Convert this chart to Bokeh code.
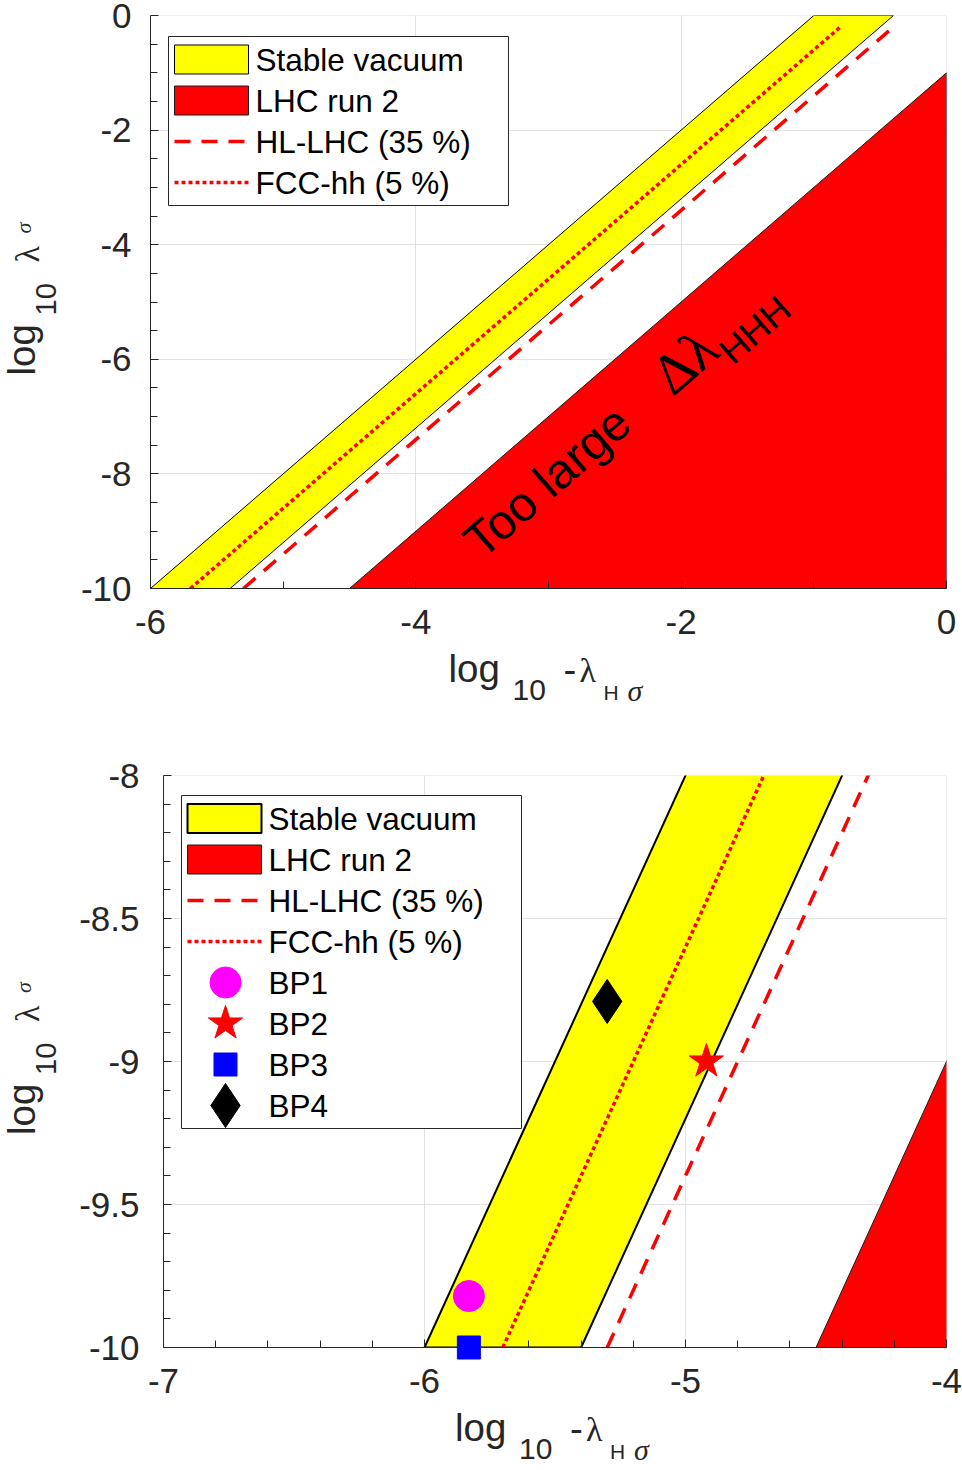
from bokeh.plotting import figure
from bokeh.models import FixedTicker, Label, Title
from bokeh.embed import file_html
from bokeh.resources import INLINE

# ---------------- data ----------------
vacuum_x = [-6.0, -1.0, -0.4, -5.4]          # stable vacuum band (polygon)
vacuum_y = [-10.0, 0.0, 0.0, -10.0]
lhc_run2_x = [-4.5, 0.0, 0.0]                # LHC run 2 excluded region
lhc_run2_y = [-10.0, -1.0, -10.0]
hl_lhc_x = [-5.3, -0.4]                      # HL-LHC (35 %) line
hl_lhc_y = [-10.0, -0.2]
fcc_hh_x = [-5.7, -0.8]                      # FCC-hh (5 %) line
fcc_hh_y = [-10.0, -0.2]

bp_names = ["BP1", "BP2", "BP3", "BP4"]
bp_x = [-5.83, -4.92, -5.83, -5.30]
bp_y = [-9.82, -9.00, -10.00, -8.79]

legend_labels = ["Stable vacuum", "LHC run 2", "HL-LHC (35 %)", "FCC-hh (5 %)"]

top_x_ticks = [-6, -4, -2, 0]
top_x_minor = [-5, -3, -1]
top_y_ticks = [-10, -8, -6, -4, -2, 0]
top_y_minor = [-9.5, -9, -8.5, -7.5, -7, -6.5, -5.5, -5, -4.5, -3.5, -3, -2.5, -1.5, -1, -0.5]
bot_x_ticks = [-7, -6, -5, -4]
bot_x_minor = [-6.8, -6.6, -6.4, -6.2, -5.8, -5.6, -5.4, -5.2, -4.8, -4.6, -4.4, -4.2]
bot_y_ticks = [-10, -9.5, -9, -8.5, -8]
bot_y_minor = [-9.9, -9.8, -9.7, -9.6, -9.4, -9.3, -9.2, -9.1,
               -8.9, -8.8, -8.7, -8.6, -8.4, -8.3, -8.2, -8.1]

# ---------------- styles / layout ----------------
PAGE_W = 962
PANEL_H = 735
AX = "#262626"
GRID = "#e2e2e2"
SANS = "Liberation Sans"
SERIF = "Liberation Serif"
EPS = 1e-9
FRAME_R = 16
bp_style = {
    "BP1": dict(marker="circle", color="magenta", size=31),
    "BP2": dict(marker="star", color="red", size=36),
    "BP3": dict(marker="square", color="blue", size=23),
    "BP4": dict(marker="diamond", color="black", size=44),
}
FONT_H = {SANS: 1.117, SERIF: 1.107}
FONT_MID = {SANS: 0.3465, SERIF: 0.3375}
EST = 1.09


def make_panel(fl, xr, yr, xt, xm, yt, ym, top, fh, ystand):
    p = figure(width=PAGE_W, height=PANEL_H, x_range=xr, y_range=yr,
               output_backend="svg", toolbar_location=None,
               min_border_left=fl, min_border_right=FRAME_R,
               min_border_top=top, min_border_bottom=PANEL_H - top - fh)
    p.outline_line_color = None
    p.background_fill_color = "white"
    p.border_fill_color = "white"
    xtk = FixedTicker(ticks=xt, minor_ticks=xm)
    ytk = FixedTicker(ticks=yt, minor_ticks=ym)
    p.xaxis.ticker = xtk
    p.yaxis.ticker = ytk
    p.xgrid.ticker = xtk
    p.ygrid.ticker = ytk
    p.xaxis.major_label_overrides = {v: "%g" % v for v in xt}
    p.yaxis.major_label_overrides = {v: "%g" % v for v in yt}
    for ax in list(p.xaxis) + list(p.yaxis):
        ax.axis_line_color = AX
        ax.axis_line_width = 1
        ax.major_tick_line_color = AX
        ax.minor_tick_line_color = AX
        ax.major_tick_in = 8
        ax.major_tick_out = 0
        ax.minor_tick_in = 7
        ax.minor_tick_out = 0
        ax.major_label_text_font = SANS
        ax.major_label_text_font_size = "35px"
        ax.major_label_text_color = AX
    p.xaxis.major_label_standoff = 21
    p.yaxis.major_label_standoff = ystand
    p.grid.grid_line_color = GRID
    p.grid.grid_line_width = 1
    return p


def draw_regions(p, lw):
    p.patch(vacuum_x, vacuum_y, fill_color="#ffff00", line_color="black", line_width=lw)
    p.patch(lhc_run2_x, lhc_run2_y, fill_color="#ff0000", line_color="#1a1a1a", line_width=1)
    p.line(hl_lhc_x, hl_lhc_y, line_color="#ff0000", line_width=3.5, line_dash="16 11")
    p.line(fcc_hh_x, fcc_hh_y, line_color="#ff0000", line_width=3.5, line_dash="4 3")


def place_pieces(p, side, start, pieces):
    """Stack zero-height Title pieces in a side panel so that each piece's
    middle lands at the wanted distance; spacers move the stacking cursor."""
    sign = 1 if side == "below" else -1
    cur = start
    for (text, font, style, size, offset, mid) in sorted(pieces, key=lambda q: sign * q[5]):
        s = -(2 + EST * size) + 0.6
        adv = max(0, round(2 + FONT_H[font] * size + s))
        sp = sign * (mid - cur) - adv / 2
        if sp >= 0.5:
            a = max(1, round(sp))
            p.add_layout(Title(text=" ", text_font=SANS, text_font_size="1px",
                               standoff=a - 2 - FONT_H[SANS], align="left",
                               vertical_align="middle"), side)
            cur += sign * a
        p.add_layout(Title(text=text, text_font=font, text_font_style=style,
                           text_font_size=f"{size}px", text_color=AX, align="left",
                           offset=offset, vertical_align="middle", standoff=s), side)
        cur += sign * adv


def add_axis_labels(p, fl, fw, frame_bottom, data_cy, axis_below, axis_left):
    # x label: log_10 -lambda_{H sigma}
    mb, sb = frame_bottom + 96, frame_bottom + 117          # main / subscript baselines
    ox = fw / 2
    xp = [("log", SANS, "normal", 38.5, ox - 100, mb - FONT_MID[SANS] * 38.5),
          ("-", SANS, "normal", 38.5, ox + 15, mb - FONT_MID[SANS] * 38.5),
          ("\u03bb", SERIF, "normal", 34, ox + 31, mb - FONT_MID[SERIF] * 34),
          ("10", SANS, "normal", 30, ox - 36, sb - FONT_MID[SANS] * 30),
          ("H", SANS, "normal", 21, ox + 55, sb - FONT_MID[SANS] * 21),
          ("\u03c3", SERIF, "italic", 30, ox + 79, sb - FONT_MID[SERIF] * 30)]
    place_pieces(p, "below", frame_bottom + axis_below, xp)
    # y label: log_10 lambda_sigma (rotated)
    oy = frame_bottom - data_cy
    yp = [("log", SANS, "normal", 38.5, oy - 73.5, 38 - FONT_MID[SANS] * 38.5),
          ("10", SANS, "normal", 29, oy - 13.5, 58 - FONT_MID[SANS] * 29),
          ("\u03bb", SERIF, "normal", 34, oy + 39.5, 40 - FONT_MID[SERIF] * 34),
          ("\u03c3", SERIF, "italic", 22, oy + 68.5, 33 - FONT_MID[SERIF] * 22)]
    place_pieces(p, "left", fl - axis_left, yp)


def add_legend(p, fl, fw, fh, xr, yr, frame_top, box_left, box_top, with_bps, lw):
    X = lambda px: xr[0] + (px - fl) * (xr[1] - xr[0]) / fw
    Y = lambda py: yr[1] - (py - frame_top) * (yr[1] - yr[0]) / fh
    n = 4 + (len(bp_names) if with_bps else 0)
    row0, step, box_w = 23, 41, 340
    box_h = row0 * 2 + step * (n - 1)
    p.quad(left=[X(box_left)], right=[X(box_left + box_w)],
           top=[Y(box_top)], bottom=[Y(box_top + box_h)],
           fill_color="white", line_color=AX, line_width=1)
    sw0, sw1, half = box_left + 6, box_left + 80, 14.5
    labels = list(legend_labels) + (list(bp_names) if with_bps else [])
    for i, lab in enumerate(labels):
        cy = box_top + row0 + step * i
        if i == 0:
            p.quad(left=[X(sw0)], right=[X(sw1)], top=[Y(cy - half)], bottom=[Y(cy + half)],
                   fill_color="#ffff00", line_color="black", line_width=lw)
        elif i == 1:
            p.quad(left=[X(sw0)], right=[X(sw1)], top=[Y(cy - half)], bottom=[Y(cy + half)],
                   fill_color="#ff0000", line_color="#1a1a1a", line_width=1)
        elif i == 2:
            p.line([X(sw0), X(sw1)], [Y(cy), Y(cy)], line_color="#ff0000",
                   line_width=3.5, line_dash="16 11")
        elif i == 3:
            p.line([X(sw0), X(sw1)], [Y(cy), Y(cy)], line_color="#ff0000",
                   line_width=3.5, line_dash="4 3")
        else:
            s = bp_style[lab]
            p.scatter([X(box_left + 44)], [Y(cy)], marker=s["marker"], size=s["size"],
                      fill_color=s["color"], line_color=s["color"])
        p.add_layout(Label(x=box_left + 87 - fl, y=frame_top + fh - cy,
                           x_units="screen", y_units="screen",
                           text=lab, text_font=SANS, text_font_size="31.5px",
                           text_color="black", text_baseline="middle", text_align="left"))


# ---------------- top panel ----------------
T_FL, T_TOP, T_FH = 150, 15, 573
T_FW = PAGE_W - T_FL - FRAME_R
T_XR, T_YR = (-6, 0 + EPS), (-10, 0 + EPS)
p1 = make_panel(T_FL, T_XR, T_YR, top_x_ticks, top_x_minor, top_y_ticks, top_y_minor,
                T_TOP, T_FH, 19)
draw_regions(p1, 1)
add_legend(p1, T_FL, T_FW, T_FH, T_XR, T_YR, T_TOP, 168, 36, False, 1)
add_axis_labels(p1, T_FL, T_FW, T_TOP + T_FH, T_TOP + T_FH / 2, 51, 70)
p1.add_layout(Label(x=-3.45, y=-9.64, text="Too large", angle=41, angle_units="deg",
                    text_font=SANS, text_font_size="49px", text_color="black"))
p1.add_layout(Label(x=-2.0, y=-6.84, text="\u0394\u03bb", angle=41, angle_units="deg",
                    text_font=SERIF, text_font_size="58px", text_color="black"))
p1.add_layout(Label(x=-1.57, y=-6.22, text="HHH", angle=41, angle_units="deg",
                    text_font=SANS, text_font_size="37px", text_color="black"))

# ---------------- bottom panel ----------------
B_FL, B_TOP, B_FH = 163, 40, 572
B_FW = PAGE_W - B_FL - FRAME_R
B_XR, B_YR = (-7, -4 + EPS), (-10, -8 + EPS)
p2 = make_panel(B_FL, B_XR, B_YR, bot_x_ticks, bot_x_minor, bot_y_ticks, bot_y_minor,
                B_TOP, B_FH, 24)
draw_regions(p2, 2)
for name, x, y in zip(bp_names, bp_x, bp_y):
    s = bp_style[name]
    p2.scatter([x], [y], marker=s["marker"], size=s["size"], fill_color=s["color"],
               line_color=s["color"], level="overlay")
add_legend(p2, B_FL, B_FW, B_FH, B_XR, B_YR, B_TOP, 181, 60, True, 2)
add_axis_labels(p2, B_FL, B_FW, B_TOP + B_FH, B_TOP + B_FH / 2, 51, 84)

# two independent roots, stacked on the page (no frame alignment between them)
open("out.html", "w").write(file_html([p1, p2], INLINE))
